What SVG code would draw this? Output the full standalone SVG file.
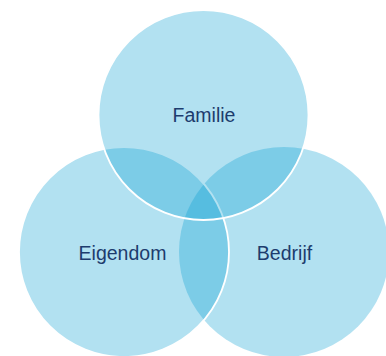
<svg xmlns="http://www.w3.org/2000/svg" width="386" height="356" viewBox="0 0 386 356">
  <style>
    .ring { fill: rgb(0,155,208); fill-opacity: 0.3; }
    .edge { fill: none; stroke: #ffffff; stroke-width: 1.8; }
    .label { font-family: "Liberation Sans", Arial, sans-serif; font-size: 19.5px; fill: #1d3c6e; text-anchor: middle; }
  </style>
  <rect width="386" height="356" fill="#ffffff"/>
  <g id="bedrijf">
    <circle class="ring" cx="284" cy="252" r="105"/>
    <text class="label" x="284.5" y="259.5">Bedrijf</text>
  </g>
  <g id="eigendom">
    <circle class="ring" cx="124" cy="252" r="105"/>
    <circle class="edge" cx="124" cy="252" r="105"/>
    <text class="label" x="122.5" y="259.5">Eigendom</text>
  </g>
  <g id="familie">
    <circle class="ring" cx="203.5" cy="115" r="105"/>
    <circle class="edge" cx="203.5" cy="115" r="105"/>
    <text class="label" x="204" y="122">Familie</text>
  </g>
  <g id="connectors"></g>
</svg>
